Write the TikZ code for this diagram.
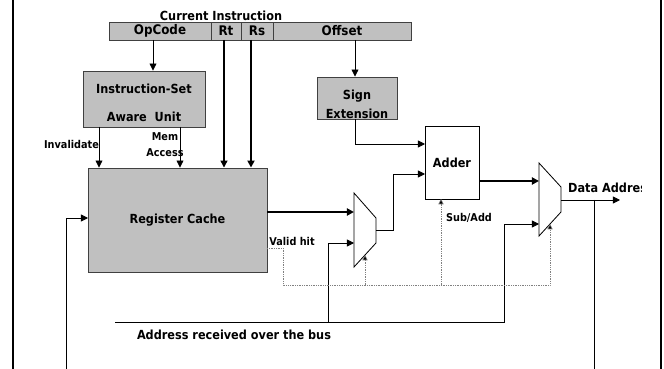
\documentclass[tikz,border=0pt]{standalone}
\usepackage{fontspec}
\setmainfont{DejaVu Sans}[FakeStretch=0.9]
\usetikzlibrary{arrows.meta}

\definecolor{boxgray}{HTML}{C0C0C0}
\definecolor{edgegray}{HTML}{404040}

\def\pxu{0.03cm}

\tikzset{
  block/.style={draw=edgegray, line width=0.8pt, fill=boxgray, inner sep=0pt},
  field/.style={block, minimum height=18*\pxu, font=\bfseries\fontsize{11.3}{13}\selectfont},
  txt/.style={inner sep=0pt, font=\bfseries\fontsize{10.7}{12}\selectfont},
  small/.style={inner sep=0pt, font=\bfseries\fontsize{9.2}{11}\selectfont},
  mux/.style={draw, line width=0.7pt, fill=white},
  wire/.style={line width=0.7pt, -{Triangle[length=6pt,width=6pt]}},
  midwire/.style={wire, line width=1.1pt},
  fatwire/.style={wire, line width=1.6pt},
  plain/.style={line width=0.7pt},
  ctrl/.style={densely dotted, gray, line width=0.5pt},
  ctrlarrow/.style={ctrl, -{Triangle[length=4.5pt,width=4.5pt,fill=black]}},
  frame/.style={line width=1.7pt}
}

\begin{document}
\begin{tikzpicture}[x=0.03cm, y=-0.03cm]

\useasboundingbox (0,0) rectangle (664,369);

% FRAME
\draw [frame] (13,0) -- (13,369);
\draw [frame] (661,0) -- (661,369);

% INSTRUCTION WORD
\node [txt] (curinstr) at (221,16) {Current Instruction};
\node [field, minimum width=102*\pxu] (opcode) at (160,31) {OpCode};
\node [field, minimum width=30*\pxu] (rt) at (226,31) {Rt};
\node [field, minimum width=32*\pxu] (rs) at (257,31) {Rs};
\node [field, minimum width=138*\pxu] (offset) at (342,31) {Offset};

\coordinate (opcTap) at (153,40);
\coordinate (rtTap) at (224,40);
\coordinate (rsTap) at (251,40);
\coordinate (offTap) at (355,40);

% BLOCKS
\node [block, minimum width=122*\pxu, minimum height=56*\pxu] (isa) at (144,99) {};
\node [txt] (isaA) at (144,89) {Instruction-Set};
\node [txt] (isaB) at (144,117) {Aware\ \ Unit};

\node [block, minimum width=179*\pxu, minimum height=104*\pxu, txt] (rcache) at (177.5,220) {Register Cache};

\node [block, minimum width=80*\pxu, minimum height=42*\pxu] (sign) at (357,98) {};
\node [txt] (signA) at (357,96) {Sign};
\node [txt] (signB) at (357,114) {Extension};

\node [draw, line width=0.7pt, minimum width=54*\pxu, minimum height=73*\pxu, txt] (adder) at (452,162.5) {Adder};

% MULTIPLEXERS
\draw [mux] (354,193) -- (376,218) -- (376,243) -- (354,267) -- cycle;
\coordinate (m1in1) at (354,212);
\coordinate (m1in2) at (354,243);
\coordinate (m1out) at (376,230);
\coordinate (m1sel) at (365,255);

\draw [mux] (539,163) -- (561,187) -- (561,212) -- (539,236) -- cycle;
\coordinate (m2in1) at (539,181);
\coordinate (m2in2) at (539,224);
\coordinate (m2out) at (561,200);
\coordinate (m2sel) at (550,224);

\coordinate (invTap) at (99,127);
\coordinate (memTap) at (180,127);
\coordinate (addIn1) at (425,144);
\coordinate (addIn2) at (425,174);
\coordinate (rcIn) at (88,218);
\coordinate (fbBot) at (66,369);
\coordinate (busStart) at (115,322);
\coordinate (busTap) at (328,322);
\coordinate (busTurn) at (504,322);
\coordinate (dataEnd) at (620,200);
\coordinate (daTap) at (594,200);
\coordinate (daBot) at (594,369);
\coordinate (vhOut) at (267,248);
\coordinate (vhTurn) at (283,285);
\coordinate (subTap) at (441,199);

% CONNECTIONS
\draw [wire] (opcTap) -- (opcTap |- isa.north);
\draw [wire] (invTap) -- (invTap |- rcache.north);
\draw [wire] (memTap) -- (memTap |- rcache.north);
\draw [midwire] (rtTap) -- (rtTap |- rcache.north);
\draw [fatwire] (rsTap) -- (rsTap |- rcache.north);
\draw [wire] (offTap) -- (offTap |- sign.north);
\draw [wire] (sign.south -| offTap) |- (addIn1);
\draw [wire, line width=0.75pt] (m1out) -- ++(17,0) |- (addIn2);
\draw [fatwire] (rcache.east |- m1in1) -- (m1in1);
\draw [fatwire] (adder.east |- m2in1) -- (m2in1);
\draw [wire] (busStart) -- (busTurn) |- (m2in2);
\draw [wire] (busTap) |- (m1in2);
\draw [wire] (m2out) -- (dataEnd);
\draw [plain] (daTap) -- (daBot);
\draw [wire] (fbBot) |- (rcIn);

% CONTROL
\draw [ctrlarrow] (vhOut) -| (vhTurn) -| (m2sel);
\draw [ctrlarrow] (m1sel |- vhTurn) -- (m1sel);
\draw [ctrlarrow] (subTap |- vhTurn) -- (subTap);

% LABELS
\node [small] (invlbl) at (71.5,144) {Invalidate};
\node [small] (memlbl) at (165,137) {Mem};
\node [small] (acclbl) at (165,153) {Access};
\node [small] (vhlbl) at (292,241) {Valid hit};
\node [small] (sublbl) at (469,218) {Sub/Add};
\node [txt] (buslbl) at (234,335) {Address received over the bus};
\begin{scope}
  \clip (560,170) rectangle (641,210);
  \node [txt, anchor=west] (datalbl) at (568,188) {Data Address};
\end{scope}

\end{tikzpicture}
\end{document}
